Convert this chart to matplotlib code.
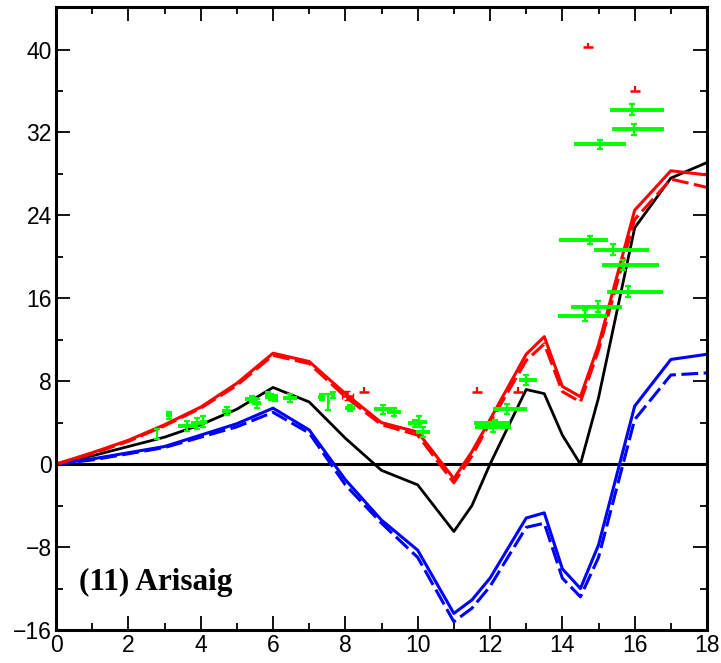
import numpy as np
import matplotlib
matplotlib.use("Agg")
import matplotlib.pyplot as plt

# узлы модельных кривых
x_model = [0, 1, 2, 3, 4, 5, 6, 7, 8, 9, 10, 11, 11.5, 12, 13, 13.5, 14, 14.5, 15, 16, 17, 18]
black_line = [0, 0.8, 1.7, 2.6, 3.8, 5.3, 7.4, 6.0, 2.5, -0.6, -2.0, -6.5, -4.0, 0.0,
              7.2, 6.8, 2.8, 0.0, 6.4, 22.8, 27.6, 29.1]
red_solid = [0, 1.1, 2.3, 3.8, 5.5, 7.8, 10.7, 9.9, 6.8, 4.0, 3.1, -1.4, 1.2, 4.3,
             10.6, 12.3, 7.5, 6.5, 11.5, 24.5, 28.3, 27.9]
red_dashed = [0, 1.0, 2.2, 3.7, 5.4, 7.6, 10.5, 9.7, 6.5, 3.8, 2.8, -1.8, 0.8, 4.0,
              10.0, 11.6, 7.0, 6.0, 11.0, 23.6, 27.5, 26.7]
blue_solid = [0, 0.5, 1.1, 1.7, 2.8, 3.9, 5.4, 3.3, -1.5, -5.4, -8.3, -14.4, -13.1, -11.0,
              -5.2, -4.7, -10.1, -12.0, -7.8, 5.6, 10.1, 10.6]
blue_dashed = [0, 0.4, 1.0, 1.6, 2.6, 3.6, 5.0, 3.0, -2.0, -5.7, -9.0, -15.2, -13.9, -11.8,
               -6.1, -5.7, -11.0, -12.8, -9.0, 4.3, 8.6, 8.8]

# наблюдения (зелёные точки с погрешностями)
green_x = [2.78, 3.12, 3.61, 3.89, 4.07, 4.72, 5.41, 5.55, 5.87, 5.95, 6.05, 6.47,
           7.35, 7.53, 7.65, 8.13, 9.05, 9.34, 9.93, 10.05, 10.15,
           12.14, 12.09, 12.48, 13.0,
           14.76, 15.41, 15.68, 15.82, 14.98, 14.64, 15.92, 15.97, 15.04]
green_y = [2.9, 4.7, 3.67, 3.93, 4.1, 5.15, 6.3, 5.86, 6.67, 6.5, 6.4, 6.35,
           6.5, 6.0, 6.7, 5.4, 5.28, 5.05, 3.93, 4.1, 3.12,
           3.99, 3.6, 5.35, 8.1,
           21.6, 20.7, 19.2, 16.65, 15.2, 14.33, 34.2, 32.3, 30.85]
green_xlo = [0.0, 0.08, 0.25, 0.15, 0.1, 0.12, 0.18, 0.12, 0.08, 0.1, 0.1, 0.2,
             0.1, 0.05, 0.05, 0.15, 0.25, 0.2, 0.2, 0.2, 0.2,
             0.59, 0.5, 0.39, 0.2,
             0.85, 0.54, 0.57, 0.58, 0.74, 0.75, 0.6, 0.61, 0.72]
green_xhi = [0.0, 0.08, 0.25, 0.15, 0.1, 0.12, 0.18, 0.12, 0.08, 0.1, 0.1, 0.2,
             0.1, 0.05, 0.05, 0.15, 0.25, 0.2, 0.2, 0.2, 0.2,
             0.42, 0.5, 0.53, 0.3,
             0.51, 0.98, 0.98, 0.96, 0.66, 0.6, 0.89, 0.84, 0.72]
green_yerr = [0.45, 0.3, 0.5, 0.5, 0.5, 0.4, 0.3, 0.4, 0.3, 0.3, 0.3, 0.4,
              0.3, 0.8, 0.3, 0.3, 0.4, 0.4, 0.3, 0.5, 0.5,
              0.3, 0.5, 0.5, 0.5,
              0.4, 0.5, 0.5, 0.5, 0.5, 0.5, 0.5, 0.5, 0.4]

# красные отметки (пределы)
limit_x = [14.72, 16.0, 8.52, 11.65, 12.78]
limit_y = [40.2, 36.0, 7.0, 7.0, 7.0]
red_point_x = [8.05]
red_point_y = [6.6]

station_label = "(11) Arisaig"

GREEN = "#00ff00"
RED = "#ff0000"
BLUE = "#0000ff"
DASH = (0, (5.5, 1.8))

fig = plt.figure(figsize=(7.21, 6.63), dpi=100)
ax = fig.add_axes([0.0777, 0.0498, 0.9029, 0.9396])

ax.axhline(0, color="black", lw=2.2, zorder=1)
ax.plot(x_model, black_line, color="black", lw=2.0, zorder=2)
ax.plot(x_model, blue_solid, color=BLUE, lw=2.2, zorder=2)
ax.plot(x_model, blue_dashed, color=BLUE, lw=2.2, ls=DASH, zorder=2)
ax.plot(x_model, red_solid, color=RED, lw=2.2, zorder=2)
ax.plot(x_model, red_dashed, color=RED, lw=2.2, ls=DASH, zorder=2)

# горизонтальные полосы и вертикальные усы с засечками
ax.errorbar(green_x, green_y, xerr=[green_xlo, green_xhi], fmt="none",
            ecolor=GREEN, elinewidth=2.8, capsize=0, zorder=3)
ax.errorbar(green_x, green_y, yerr=green_yerr, fmt="none",
            ecolor=GREEN, elinewidth=1.6, capsize=2.2, capthick=1.6, zorder=3)

ax.errorbar(limit_x, limit_y, yerr=[np.zeros(len(limit_x)), np.full(len(limit_x), 0.45)],
            fmt="_", color=RED, ms=7, mew=1.8, elinewidth=1.6, capsize=0, zorder=3)
ax.errorbar(red_point_x, red_point_y, xerr=0.15, yerr=0.45, fmt="none",
            ecolor=RED, elinewidth=1.8, capsize=2.2, zorder=3)

ax.text(0.64, -11.4, station_label, fontsize=22.5, fontweight="bold",
        family="Liberation Serif", va="center", ha="left")

ax.set_xlim(0, 18)
ax.set_ylim(-16, 44.1)
ax.set_xticks(np.arange(0, 19, 2))
ax.set_xticks(np.arange(0, 19, 1), minor=True)
ax.set_yticks(np.arange(-16, 41, 8))
ax.set_yticks(np.arange(-16, 44, 4), minor=True)
ax.set_yticklabels([str(v).replace("-", "\u2212") for v in range(-16, 41, 8)])

ax.tick_params(which="both", direction="in", top=True, right=True, width=1.3,
               labelsize=16.5, pad=3)
ax.tick_params(which="major", length=10)
ax.tick_params(which="minor", length=5)
for lab in ax.get_xticklabels() + ax.get_yticklabels():
    lab.set_family("Liberation Sans")
for sp in ax.spines.values():
    sp.set_linewidth(2.2)

fig.savefig("out.png", dpi=100)
